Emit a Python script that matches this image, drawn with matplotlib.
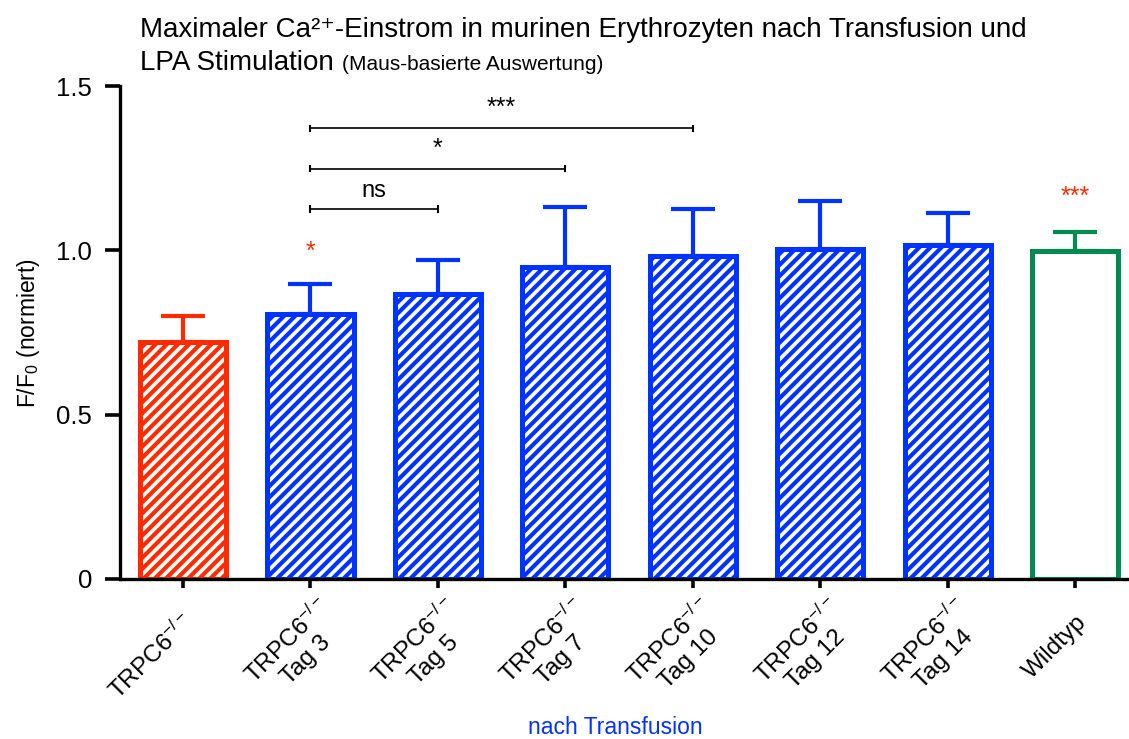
import numpy as np
import matplotlib.pyplot as plt
from matplotlib.transforms import ScaledTranslation

plt.rcParams['font.family'] = ['Liberation Sans', 'DejaVu Sans']
plt.rcParams['mathtext.fontset'] = 'custom'
plt.rcParams['mathtext.rm'] = 'Liberation Sans'
plt.rcParams['mathtext.it'] = 'Liberation Sans'
plt.rcParams['hatch.linewidth'] = 3.0

# Mittelwerte und SEM (F/F0, normiert)
gruppen = ['TRPC6$^{-/-}$', 'TRPC6$^{-/-}$\nTag 3', 'TRPC6$^{-/-}$\nTag 5', 'TRPC6$^{-/-}$\nTag 7',
           'TRPC6$^{-/-}$\nTag 10', 'TRPC6$^{-/-}$\nTag 12', 'TRPC6$^{-/-}$\nTag 14', 'Wildtyp']
mittelwerte = [0.720, 0.805, 0.867, 0.948, 0.982, 1.003, 1.016, 0.998]
sem = [0.081, 0.092, 0.103, 0.185, 0.144, 0.147, 0.097, 0.058]

farben = ['#ff2a00'] + ['#0033ff'] * 6 + ['#008c50']
schraffur = ['///'] * 7 + ['']

# Vergleiche Tag 3 gegen spaetere Tage: (von, bis, hoehe, text)
vergleiche = [(1, 4, 1.371, '***'), (1, 3, 1.248, '*'), (1, 2, 1.126, 'ns')]

fig = plt.figure(figsize=(11.29, 7.39), dpi=100)
ax = fig.add_axes([120 / 1129, 1 - 579 / 739, 1 - 120 / 1129, (579 - 86) / 739])

x = np.arange(len(gruppen))
for i in range(len(gruppen)):
    ax.errorbar(x[i], mittelwerte[i], yerr=[[0], [sem[i]]], color=farben[i], lw=3,
                capsize=16, capthick=3, zorder=1)
    ax.bar(x[i], mittelwerte[i], width=0.675, color='white', edgecolor=farben[i],
           hatch=schraffur[i], linewidth=3.6, zorder=2)

for a, b, y, txt in vergleiche:
    ax.plot([x[a], x[b]], [y, y], color='black', lw=1.2)
    ax.plot([x[a], x[a]], [y - 0.008, y + 0.008], color='black', lw=1.5)
    ax.plot([x[b], x[b]], [y - 0.008, y + 0.008], color='black', lw=1.5)
    if txt == 'ns':
        ax.text((x[a] + x[b]) / 2, y + 0.02, txt, ha='center', va='bottom', fontsize=17)
    else:
        ax.text((x[a] + x[b]) / 2, y + 0.025, txt, ha='center', va='bottom', fontsize=18)

# Signifikanz gegenueber TRPC6-/-
ax.text(x[1], 0.96, '*', color='#ff2a00', ha='center', va='bottom', fontsize=18)
ax.text(x[7], 1.125, '***', color='#ff2a00', ha='center', va='bottom', fontsize=18)

ax.set_xlim(-0.494, 7.42)
ax.set_ylim(0, 1.5)
ax.set_yticks([0, 0.5, 1.0, 1.5])
ax.set_yticklabels(['0', '0.5', '1.0', '1.5'])
ax.set_xticks(x)
ax.set_xticklabels(gruppen, rotation=45, ha='right', va='baseline', rotation_mode='anchor',
                   multialignment='center')
ax.tick_params(axis='both', width=2.6, direction='out')
ax.tick_params(axis='x', labelsize=17.5, length=6.5, pad=25.5)
ax.tick_params(axis='y', labelsize=18.5, length=11, pad=9)
for lab in ax.get_xticklabels():
    dx = 36 if '\n' in lab.get_text() else 12
    lab.set_transform(lab.get_transform() + ScaledTranslation(dx / 100, 0, fig.dpi_scale_trans))
for s in ['top', 'right']:
    ax.spines[s].set_visible(False)
for s in ['left', 'bottom']:
    ax.spines[s].set_linewidth(2.4)

ax.set_ylabel('F/F$_0$ (normiert)', fontsize=16.5, labelpad=10)

fig.text(615 / 1129, 1 - 727 / 739, 'nach Transfusion', color='#0033ff', fontsize=16.5,
         ha='center', va='center')

# Titel in zwei Zeilen, Zusatz in kleinerer Schrift
fig.text(140 / 1129, 1 - 37 / 739,
         'Maximaler Ca²⁺-Einstrom in murinen Erythrozyten nach Transfusion und',
         fontsize=20, ha='left', va='baseline')
t2 = fig.text(140 / 1129, 1 - 70 / 739, 'LPA Stimulation ', fontsize=20,
              ha='left', va='baseline')
fig.canvas.draw()
x_ende = t2.get_window_extent().x1 / fig.bbox.width
fig.text(x_ende, 1 - 70 / 739, '(Maus-basierte Auswertung)', fontsize=15,
         ha='left', va='baseline')

fig.savefig('out.png', dpi=100)
